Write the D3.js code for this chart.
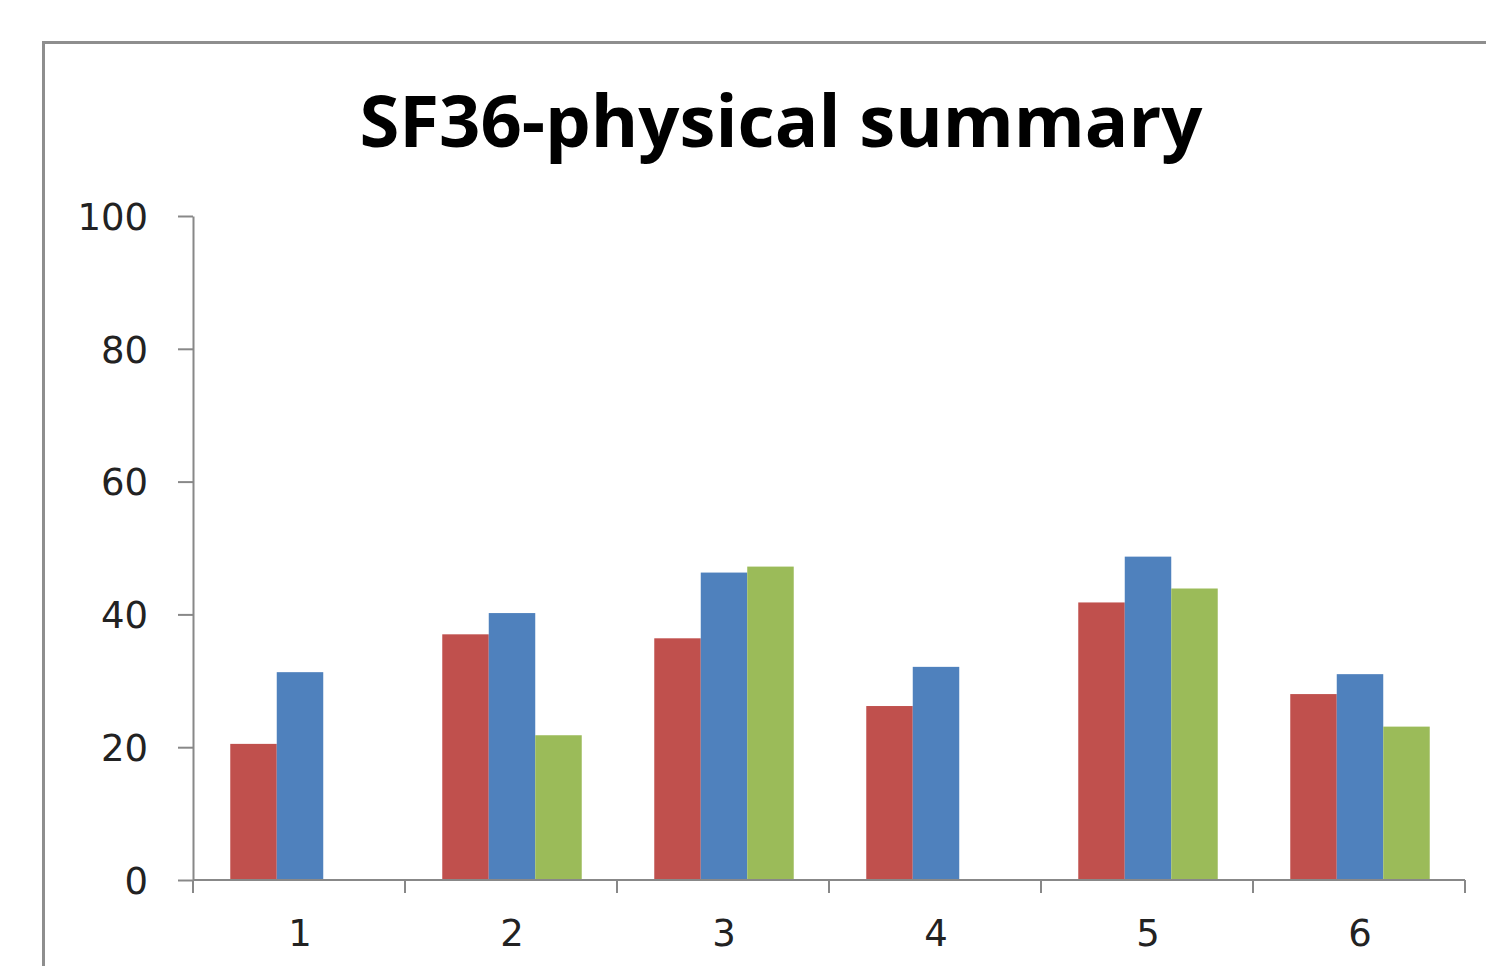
<!DOCTYPE html>
<html><head><meta charset="utf-8">
<script src="https://cdn.jsdelivr.net/npm/d3@7"></script>
<style>html,body{margin:0;padding:0;background:#fff;overflow:hidden}</style>
</head><body>
<svg id="chart" width="1486" height="966"></svg>
<script>
const categories = ["1","2","3","4","5","6"];
const seriesNames = ["Series1","Series2","Series3"];
const series1 = [20.5, 37.0, 36.4, 26.2, 41.8, 28.0];
const series2 = [31.3, 40.2, 46.3, 32.1, 48.7, 31.0];
const series3 = [0, 21.8, 47.2, 0, 43.9, 23.1];
const yTicks = [0, 20, 40, 60, 80, 100];
const colors = ["#C0504D", "#4F81BD", "#9BBB59"];
const title = "SF36-physical summary";

(function(){
const svg = d3.select("#chart");
svg.append("rect").attr("width",1486).attr("height",966).attr("fill","#fff");
// chart frame
svg.append("rect").attr("x",43.5).attr("y",42.5).attr("width",1500).attr("height",1000)
  .attr("fill","#fff").attr("stroke","#8e8e8e").attr("stroke-width",3);

const pLeft=193, pRight=1465, pTop=216, pBottom=880;
const x0 = d3.scaleBand().domain(categories).range([pLeft,pRight]).padding(0);
const x1 = d3.scaleBand().domain(seriesNames).range([1,x0.bandwidth()+1]).paddingInner(0).paddingOuter(0.78);
const y = d3.scaleLinear().domain([0,100]).range([pBottom,pTop]);

const data = [series1, series2, series3];
const g = svg.append("g");
seriesNames.forEach((s,si)=>{
  g.selectAll(".b"+si).data(categories).enter().append("rect")
    .attr("x", (c)=>x0(c)+x1(s))
    .attr("width", x1.bandwidth())
    .attr("y", (c,i)=>y(data[si][i]))
    .attr("height", (c,i)=>y(0)-y(data[si][i]))
    .attr("fill", colors[si]);
});

// Y axis
const yAxis = d3.axisLeft(y).tickValues(yTicks).tickSize(15).tickPadding(30).tickSizeOuter(0);
const ya = svg.append("g").attr("transform",`translate(${pLeft},0)`).call(yAxis);
ya.select(".domain").attr("stroke","#888").attr("stroke-width",2);
ya.selectAll(".tick line").attr("stroke","#888").attr("stroke-width",2);
ya.selectAll(".tick text").attr("font-family","'DejaVu Sans', Verdana, sans-serif")
  .attr("font-size",37).attr("fill","#222").attr("dy","0.36em");

// X axis
const xa = svg.append("g").attr("transform",`translate(0,${pBottom})`);
xa.append("line").attr("x1",pLeft).attr("x2",pRight).attr("y1",0).attr("y2",0)
  .attr("stroke","#888").attr("stroke-width",2);
const boundaries = categories.map(c=>x0(c)).concat([pRight]);
xa.selectAll(".xt").data(boundaries).enter().append("line")
  .attr("x1",d=>d).attr("x2",d=>d).attr("y1",0).attr("y2",13)
  .attr("stroke","#888").attr("stroke-width",2);
xa.selectAll(".xl").data(categories).enter().append("text")
  .attr("x",c=>x0(c)+x0.bandwidth()/2+1).attr("y",66)
  .attr("text-anchor","middle")
  .attr("font-family","'DejaVu Sans', Verdana, sans-serif")
  .attr("font-size",37).attr("fill","#222").text(c=>c);

// Title
svg.append("text").attr("x",781).attr("y",147).attr("text-anchor","middle")
  .attr("font-family","'Open Sans', 'Noto Sans', sans-serif").attr("font-weight","bold")
  .attr("font-size",72).attr("fill","#000")
  .attr("textLength",843).attr("lengthAdjust","spacingAndGlyphs")
  .text(title);
})();
</script>
</body></html>
